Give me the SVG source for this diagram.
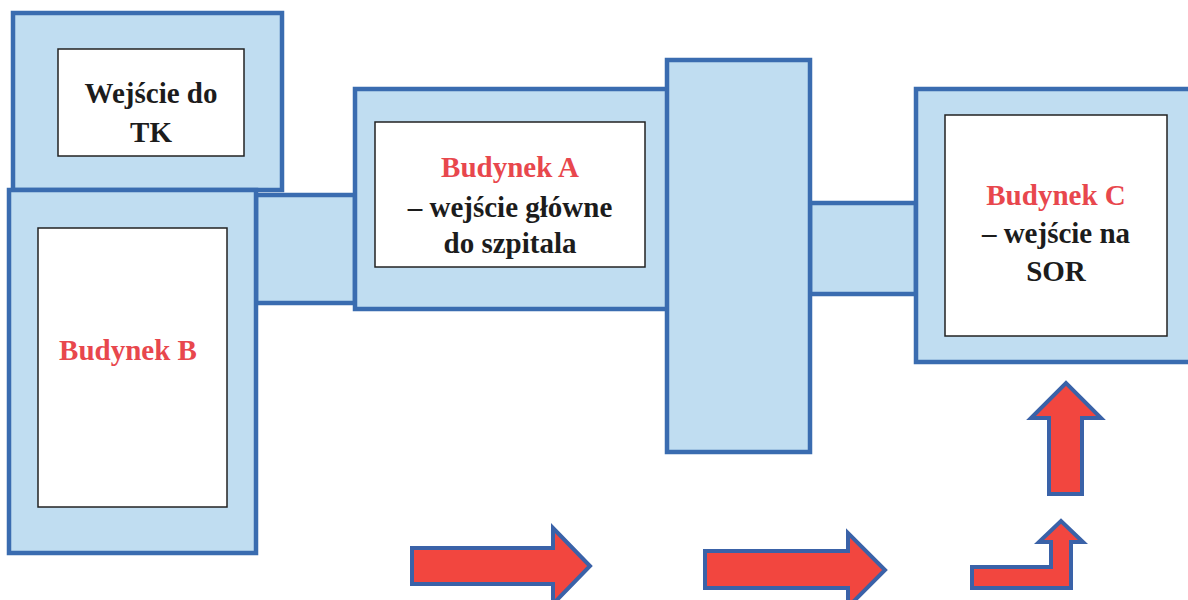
<svg xmlns="http://www.w3.org/2000/svg" width="1188" height="600" viewBox="0 0 1188 600">
<style>
.outer{fill:#c0ddf1;stroke:#3a6cb0;stroke-width:4.5}
.inner{fill:#ffffff;stroke:#222222;stroke-width:1.5}
.arrow{fill:#f2463f;stroke:#3a62a8;stroke-width:4;stroke-linejoin:miter}
.lbl{font-family:'Liberation Serif','Times New Roman',Times,'DejaVu Serif','Noto Serif',serif;font-weight:bold;font-size:29px;text-anchor:middle}
.red{fill:#e8474d}
.blk{fill:#1c1c1c}
</style>
<rect width="1188" height="600" fill="#ffffff"/>
<g id="connectors">
  <rect id="corridor-B-A" class="outer" x="256" y="195" width="99" height="108"/>
  <rect id="corridor-hall-C" class="outer" x="810" y="203" width="106" height="91"/>
</g>
<g id="node-tk">
  <rect class="outer" x="13" y="13" width="269" height="177"/>
  <rect class="inner" x="58" y="49" width="186" height="107"/>
  <text class="lbl blk" x="151" y="103">Wejście do</text>
  <text class="lbl blk" x="151" y="142">TK</text>
</g>
<g id="node-b">
  <rect class="outer" x="9" y="190" width="247" height="363"/>
  <rect class="inner" x="38" y="228" width="189" height="279"/>
  <text class="lbl red" x="128" y="360">Budynek B</text>
</g>
<g id="node-a">
  <rect class="outer" x="355" y="89" width="313" height="220"/>
  <rect class="inner" x="375" y="122" width="270" height="145"/>
  <text class="lbl red" x="510" y="177">Budynek A</text>
  <text class="lbl blk" x="510" y="217">– wejście główne</text>
  <text class="lbl blk" x="510" y="253">do szpitala</text>
</g>
<g id="node-hall">
  <rect class="outer" x="667" y="60" width="143" height="392"/>
</g>
<g id="node-c">
  <rect class="outer" x="916" y="89" width="276" height="273"/>
  <rect class="inner" x="945" y="115" width="222" height="221"/>
  <text class="lbl red" x="1056" y="205">Budynek C</text>
  <text class="lbl blk" x="1056" y="243">– wejście na</text>
  <text class="lbl blk" x="1056" y="281">SOR</text>
</g>
<g id="route-arrows">
  <polygon class="arrow" points="412,548 553,548 553,528 590,566 553,604 553,584 412,584"/>
  <polygon class="arrow" points="705,551 848,551 848,533 885,570 848,607 848,588 705,588"/>
  <polygon class="arrow" points="1049,494 1049,418 1031,418 1066,383 1101,418 1082,418 1082,494"/>
  <polygon class="arrow" points="972,567 1051,567 1051,542 1039,542 1061,521 1083,542 1071,542 1071,588 972,588"/>
</g>
</svg>
